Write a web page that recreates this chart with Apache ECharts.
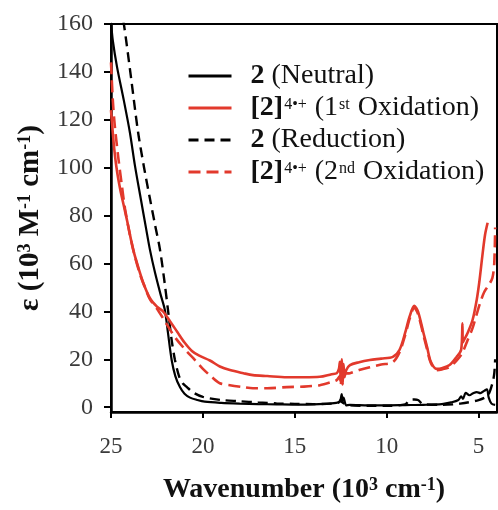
<!DOCTYPE html>
<html>
<head>
<meta charset="utf-8">
<script src="https://cdn.jsdelivr.net/npm/echarts@6/dist/echarts.min.js"></script>
<style>
html,body{margin:0;padding:0;background:#fff;}
#c{width:498px;height:510px;}
</style>
</head>
<body>
<div id="c"></div>
<script>
// ---- data (wavenumber in 10^3 cm^-1, epsilon in 10^3 M^-1 cm^-1) ----
const xTicks = [25, 20, 15, 10, 5];
const yTicks = [0, 20, 40, 60, 80, 100, 120, 140, 160];

const neutralX = [25.0, 24.9, 24.67, 24.3, 23.97, 23.7, 23.37, 23.1, 22.88, 22.6, 22.3, 22.07, 21.9, 21.7, 21.5, 21.25, 21.0, 20.7, 20.3, 19.9, 19.0, 18.0, 17.0, 16.0, 15.0, 14.0, 13.0, 12.6, 12.5, 12.45, 12.4, 12.35, 12.2, 12.0, 11.0, 10.0, 9.0, 8.0, 7.0, 6.5, 6.1, 5.95, 5.85, 5.7, 5.5, 5.3, 5.1, 4.9, 4.7, 4.55, 4.45, 4.3, 4.1];
const neutralY = [161, 153, 142, 128, 114.6, 101, 86.6, 75, 65.7, 56, 47, 40.6, 31, 19.7, 13, 8.4, 5.6, 4.0, 3.0, 2.3, 1.8, 1.5, 1.3, 1.2, 1.1, 1.2, 1.6, 2.2, 3.5, 5.5, 2.5, 4.0, 0.8, 1.0, 0.8, 0.8, 0.9, 1.0, 1.3, 2.0, 3.0, 4.5, 3.5, 6.0, 5.0, 5.8, 6.3, 5.9, 6.8, 7.5, 4.0, 1.5, 1.0];

const ox1X = [25.0, 24.85, 24.7, 24.5, 24.3, 24.1, 23.8, 23.5, 23.2, 22.88, 22.5, 22.17, 21.8, 21.4, 21.0, 20.6, 20.2, 19.62, 19.08, 18.53, 17.8, 17.28, 16.5, 15.43, 14.5, 13.64, 13.0, 12.72, 12.6, 12.55, 12.5, 12.45, 12.4, 12.35, 12.3, 12.2, 12.0, 11.5, 10.92, 10.3, 9.67, 9.3, 9.0, 8.75, 8.5, 8.3, 8.0, 7.8, 7.6, 7.28, 7.0, 6.58, 6.2, 5.95, 5.88, 5.86, 5.8, 5.6, 5.33, 5.1, 4.95, 4.8, 4.65, 4.51];
const ox1Y = [124, 110, 100, 91, 84, 77, 66, 58, 51, 45.5, 42, 40, 36, 31.5, 27, 23.5, 21.5, 19.5, 17, 15.5, 14.2, 13.4, 13, 12.5, 12.5, 12.7, 13.8, 14.2, 16, 19, 11, 20, 9.5, 18, 12.5, 15.5, 17.6, 18.8, 19.7, 20.3, 21, 24, 31, 38, 42.3, 40, 31, 25, 19, 16, 16.3, 17.6, 21, 24, 35, 27, 28, 31, 36.4, 45, 53, 63, 72, 77];

const ox2X = [25.0, 24.9, 24.8, 24.6, 24.4, 24.24, 24.0, 23.7, 23.4, 23.1, 22.88, 22.45, 22.0, 21.5, 20.9, 20.43, 20.0, 19.5, 19.08, 18.53, 17.8, 17.28, 16.5, 15.43, 14.5, 13.64, 13.0, 12.72, 12.55, 12.5, 12.45, 12.4, 12.3, 12.0, 11.5, 10.92, 10.3, 9.67, 9.3, 9.0, 8.75, 8.5, 8.3, 8.0, 7.8, 7.6, 7.28, 7.0, 6.58, 6.2, 5.9, 5.6, 5.33, 5.1, 4.9, 4.7, 4.45, 4.25, 4.15, 4.1];
const ox2Y = [144, 128, 118, 104, 92, 83, 73, 63, 55, 49, 45, 40.6, 35, 29, 23.5, 19.7, 16, 12.5, 10, 9.2, 8.4, 7.9, 7.9, 8.4, 8.6, 9.2, 10.5, 11.3, 13, 9, 16, 10, 14, 14.2, 15.5, 16.7, 17.8, 18.8, 23, 30, 37, 41.5, 39, 30, 24, 18.5, 15.5, 15.8, 16.8, 19.5, 22.5, 28, 33, 39, 44, 48, 51, 54, 60, 75];

const reductionX = [24.5, 24.3, 23.9, 23.53, 23.2, 22.88, 22.6, 22.34, 22.1, 21.9, 21.7, 21.52, 21.3, 21.1, 20.87, 20.5, 20.0, 19.0, 18.0, 17.0, 16.0, 15.0, 14.0, 13.0, 12.6, 12.5, 12.45, 12.3, 12.0, 11.0, 10.0, 9.0, 8.75, 8.5, 8.3, 8.0, 7.0, 6.0, 5.0, 4.5, 4.25, 4.15, 4.1];
const reductionY = [168, 160, 137, 115, 100, 87, 76, 66, 53, 40.6, 28, 19.7, 13, 10, 8.4, 6, 4.3, 3.0, 2.5, 2.0, 1.6, 1.4, 1.3, 1.5, 2.0, 3.0, 2.2, 1.5, 0.8, 0.6, 0.6, 1.2, 3.0, 3.2, 3.0, 1.2, 1.0, 1.5, 3.0, 5.0, 10, 14, 20];

const seriesNames = ['2 (Neutral)', '[2]4•+ (1st Oxidation)', '2 (Reduction)', '[2]4•+ (2nd Oxidation)'];
const legendRich = {
  '2 (Neutral)': '{b|2}{n| (Neutral)}',
  '[2]4•+ (1st Oxidation)': '{b|[2]}{s|4•+}{n| (1}{s|st}{n| Oxidation)}',
  '2 (Reduction)': '{b|2}{n| (Reduction)}',
  '[2]4•+ (2nd Oxidation)': '{b|[2]}{s|4•+}{n| (2}{s|nd}{n| Oxidation)}'
};

const RED = '#e2392c';
const BLACK = '#000';
const SERIF = '"Liberation Serif", "Times New Roman", serif';

function pairs(xs, ys) { return xs.map((x, i) => [x, ys[i]]); }

const chart = echarts.init(document.getElementById('c'), null, {renderer: 'canvas'});
chart.setOption({
  animation: false,
  backgroundColor: '#fff',
  grid: {left: 111, right: 1, top: 24, bottom: 98, show: true, borderColor: '#000', borderWidth: 2, backgroundColor: 'transparent'},
  legend: {
    orient: 'vertical', left: 187, top: 60, padding: 0, itemWidth: 43, itemHeight: 14, itemGap: 0,
    data: seriesNames,
    itemStyle: {opacity: 0},
    lineStyle: {width: 3},
    formatter: name => legendRich[name],
    textStyle: {
      fontFamily: SERIF, fontSize: 28, color: '#111', lineHeight: 32, padding: [0, 0, 0, 14],
      rich: {
        b: {fontFamily: SERIF, fontSize: 28, fontWeight: 'bold', color: '#111', lineHeight: 32},
        n: {fontFamily: SERIF, fontSize: 28, color: '#111', lineHeight: 32},
        s: {fontFamily: SERIF, fontSize: 16, color: '#111', lineHeight: 32, verticalAlign: 'top', padding: [5, 1, 0, 1]}
      }
    }
  },
  xAxis: {
    type: 'value', min: 4, max: 25, inverse: true,
    name: '{b|Wavenumber (10}{s|3}{b| cm}{s|-1}{b|)}',
    nameLocation: 'middle', nameGap: 64,
    nameTextStyle: {
      rich: {
        b: {fontFamily: SERIF, fontSize: 28, fontWeight: 'bold', color: '#111'},
        s: {fontFamily: SERIF, fontSize: 18, fontWeight: 'bold', color: '#111', verticalAlign: 'top', padding: [0, 0, 8, 0]}
      }
    },
    axisLine: {onZero: false, lineStyle: {color: '#000', width: 2.5}},
    axisTick: {show: true, inside: false, length: 6, customValues: xTicks, lineStyle: {color: '#000', width: 2}},
    axisLabel: {customValues: xTicks, margin: 23, fontFamily: SERIF, fontSize: 23, color: '#3a3a3a'},
    splitLine: {show: false}
  },
  yAxis: {
    type: 'value', min: -2, max: 160,
    name: '{b|ε (10}{s|3}{b| M}{s|-1}{b| cm}{s|-1}{b|)}',
    nameLocation: 'middle', nameGap: 66, nameRotate: 90,
    nameTextStyle: {
      rich: {
        b: {fontFamily: SERIF, fontSize: 29, fontWeight: 'bold', color: '#111'},
        s: {fontFamily: SERIF, fontSize: 18, fontWeight: 'bold', color: '#111', verticalAlign: 'top', padding: [0, 0, 8, 0]}
      }
    },
    axisLine: {show: true, lineStyle: {color: '#000', width: 2.5}},
    axisTick: {show: true, inside: false, length: 7, customValues: yTicks, lineStyle: {color: '#000', width: 2}},
    axisLabel: {customValues: yTicks, margin: 18, fontFamily: SERIF, fontSize: 24, color: '#3a3a3a'},
    splitLine: {show: false}
  },
  series: [
    {name: seriesNames[0], type: 'line', data: pairs(neutralX, neutralY), symbol: 'none', smooth: 0.3, color: BLACK,
     lineStyle: {color: BLACK, width: 2.2}, z: 3},
    {name: seriesNames[1], type: 'line', data: pairs(ox1X, ox1Y), symbol: 'none', smooth: 0.3, color: RED,
     lineStyle: {color: RED, width: 2.6}, z: 4},
    {name: seriesNames[2], type: 'line', data: pairs(reductionX, reductionY), symbol: 'none', smooth: 0.3, color: BLACK,
     lineStyle: {color: BLACK, width: 2.4, type: [10, 6]}, z: 3},
    {name: seriesNames[3], type: 'line', data: pairs(ox2X, ox2Y), symbol: 'none', smooth: 0.3, color: RED,
     lineStyle: {color: RED, width: 2.6, type: [12, 6]}, z: 4}
  ]
});
</script>
</body>
</html>
